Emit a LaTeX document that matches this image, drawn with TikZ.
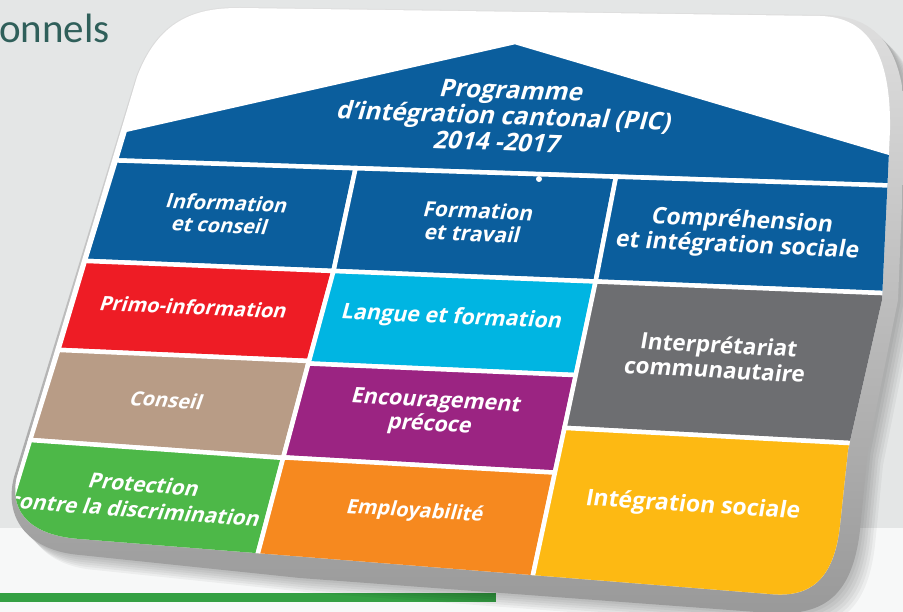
\documentclass[tikz,border=0pt]{standalone}
\usepackage{fontspec}
\setmainfont{Open Sans}
\newfontfamily\slidefont{Carlito}
\definecolor{bgtop}{HTML}{E4E6E6}
\definecolor{bgbot}{HTML}{F7F8F8}
\definecolor{gbar}{HTML}{34A043}
\definecolor{titlecol}{HTML}{2F5F5A}
\definecolor{pblue}{HTML}{0B5E9D}
\definecolor{pred}{HTML}{EE1C25}
\definecolor{ptan}{HTML}{B89C86}
\definecolor{pgreen}{HTML}{4DB848}
\definecolor{pcyan}{HTML}{00B5E2}
\definecolor{ppurple}{HTML}{9B2482}
\definecolor{porange}{HTML}{F6891F}
\definecolor{pgray}{HTML}{6D6E71}
\definecolor{pyellow}{HTML}{FDB913}
\begin{document}
\begin{tikzpicture}[x=1pt,y=-1pt,
  cell/.style={draw=white,line width=4.5pt,line join=miter},
  lbl/.style={text=white,align=center,inner sep=0pt,font=\bfseries\fontsize{20}{22.5}\selectfont},
  faceshape/.style={insert path={(240,8) -- (820,16) .. controls (872,17) and (891,60) .. (890,130) -- (882,300) -- (848,450) -- (840,525) .. controls (834,580) and (810,598) .. (770,594) -- (80,539) .. controls (35,536) and (8,515) .. (17,477) -- (137,77) .. controls (160,16) and (200,8) .. (240,8) -- cycle}},
  outershape/.style={insert path={(240,7) -- (825,15) .. controls (885,16) and (906,60) .. (905,130) -- (898,300) -- (868,450) -- (860,530) .. controls (852,600) and (820,616) .. (770,613) -- (300,578) -- (80,555) .. controls (30,551) and (3,520) .. (14,477) -- (136,77) .. controls (159,15) and (200,7) .. (240,7) -- cycle}}]
\useasboundingbox (0,0) rectangle (903,612);
% background
\fill[bgtop] (0,0) rectangle (903,528);
\fill[bgbot] (0,528) rectangle (903,612);
\fill[gbar] (0,593) rectangle (496,602);
\node[anchor=base west,text=titlecol,inner sep=0pt,font=\slidefont\fontsize{41}{44}\selectfont] (ttl) at (-1,43) {onnels};
% shadow
\foreach \i in {1,...,6}{
  \fill[black,opacity=0.045,xshift=2.5*\i pt,yshift=-2.5*\i pt,outershape];
}
% card bevel
\shade[top color=gray!25,bottom color=gray!80,outershape];
% face
\fill[white,faceshape];
\begin{scope}
\clip[faceshape];
% roof
\filldraw[cell,fill=pblue] (125,130) -- (515,42) -- (940,167.8) -- (940,187.1) -- (115.8,160.4) -- cycle;
% header
\filldraw[cell,fill=pblue] (115.8,160.4) -- (355.6,168.2) -- (333.5,271) -- (84.9,260.9) -- cycle;
\filldraw[cell,fill=pblue] (355.6,168.2) -- (616,176.7) -- (595.6,281.5) -- (333.5,271) -- cycle;
\filldraw[cell,fill=pblue] (616,176.7) -- (940,187.1) -- (940,295.4) -- (595.6,281.5) -- cycle;
% left column
\filldraw[cell,fill=pred] (84.9,260.9) -- (333.5,271) -- (308.9,361) -- (58.3,349.9) -- cycle;
\filldraw[cell,fill=ptan] (58.3,349.9) -- (308.9,361) -- (283.2,457.9) -- (30.1,440) -- cycle;
\filldraw[cell,fill=pgreen] (30.1,440) -- (283.2,457.9) -- (232.3,650) -- (-34.1,650) -- cycle;
% middle column
\filldraw[cell,fill=pcyan] (333.5,271) -- (595.6,281.5) -- (575.9,375.1) -- (308.4,363.5) -- cycle;
\filldraw[cell,fill=ppurple] (308.4,363.5) -- (575.9,375.1) -- (554.9,472.6) -- (283.3,457.4) -- cycle;
\filldraw[cell,fill=porange] (283.3,457.4) -- (554.9,472.6) -- (516.9,650) -- (232.3,650) -- cycle;
% right column
\filldraw[cell,fill=pgray] (595.6,281.5) -- (940,295.4) -- (940,447.9) -- (564.5,427.9) -- cycle;
\filldraw[cell,fill=pyellow] (564.5,427.9) -- (940,447.9) -- (940,650) -- (516.9,650) -- cycle;
\fill[white] (539,179) circle (3);
% labels
\node[lbl,rotate=-2,xslant=0.25,font=\bfseries\fontsize{24.5}{26}\selectfont] (roof) at (505,116) {Programme\\d’intégration cantonal (PIC)\\2014 -2017};
\node[lbl,rotate=-2.3,xslant=0.28] (hinfo) at (224,214) {Information\\et conseil};
\node[lbl,rotate=-2.3,xslant=0.22,font=\bfseries\fontsize{21}{23}\selectfont] (hform) at (476,222) {Formation\\et travail};
\node[lbl,rotate=-2.6,xslant=0.15,font=\bfseries\fontsize{23}{25}\selectfont] (hcomp) at (740,234) {Compréhension\\et intégration sociale};
\node[lbl,rotate=-2.5,xslant=0.28] (primo) at (194,307) {Primo-information};
\node[lbl,rotate=-3.5,xslant=0.28] (conseil) at (167,400) {Conseil};
\node[lbl,rotate=-4.3,xslant=0.28,font=\bfseries\fontsize{21}{26}\selectfont] (protect) at (140,497) {Protection\\contre la discrimination};
\node[lbl,rotate=-2.5,xslant=0.22,font=\bfseries\fontsize{21.5}{23}\selectfont] (langue) at (452,318) {Langue et formation};
\node[lbl,rotate=-3,xslant=0.22,font=\bfseries\fontsize{21.5}{24}\selectfont] (encour) at (433,414) {Encouragement\\précoce};
\node[lbl,rotate=-3.5,xslant=0.22] (employ) at (415,512) {Employabilité};
\node[lbl,rotate=-3,xslant=0.12,font=\bfseries\fontsize{22.5}{25}\selectfont] (interp) at (717,357) {Interprétariat\\communautaire};
\node[lbl,rotate=-3.5,xslant=0.12,font=\bfseries\fontsize{23}{25}\selectfont] (integ) at (693,506) {Intégration sociale};
\end{scope}
\end{tikzpicture}
\end{document}
